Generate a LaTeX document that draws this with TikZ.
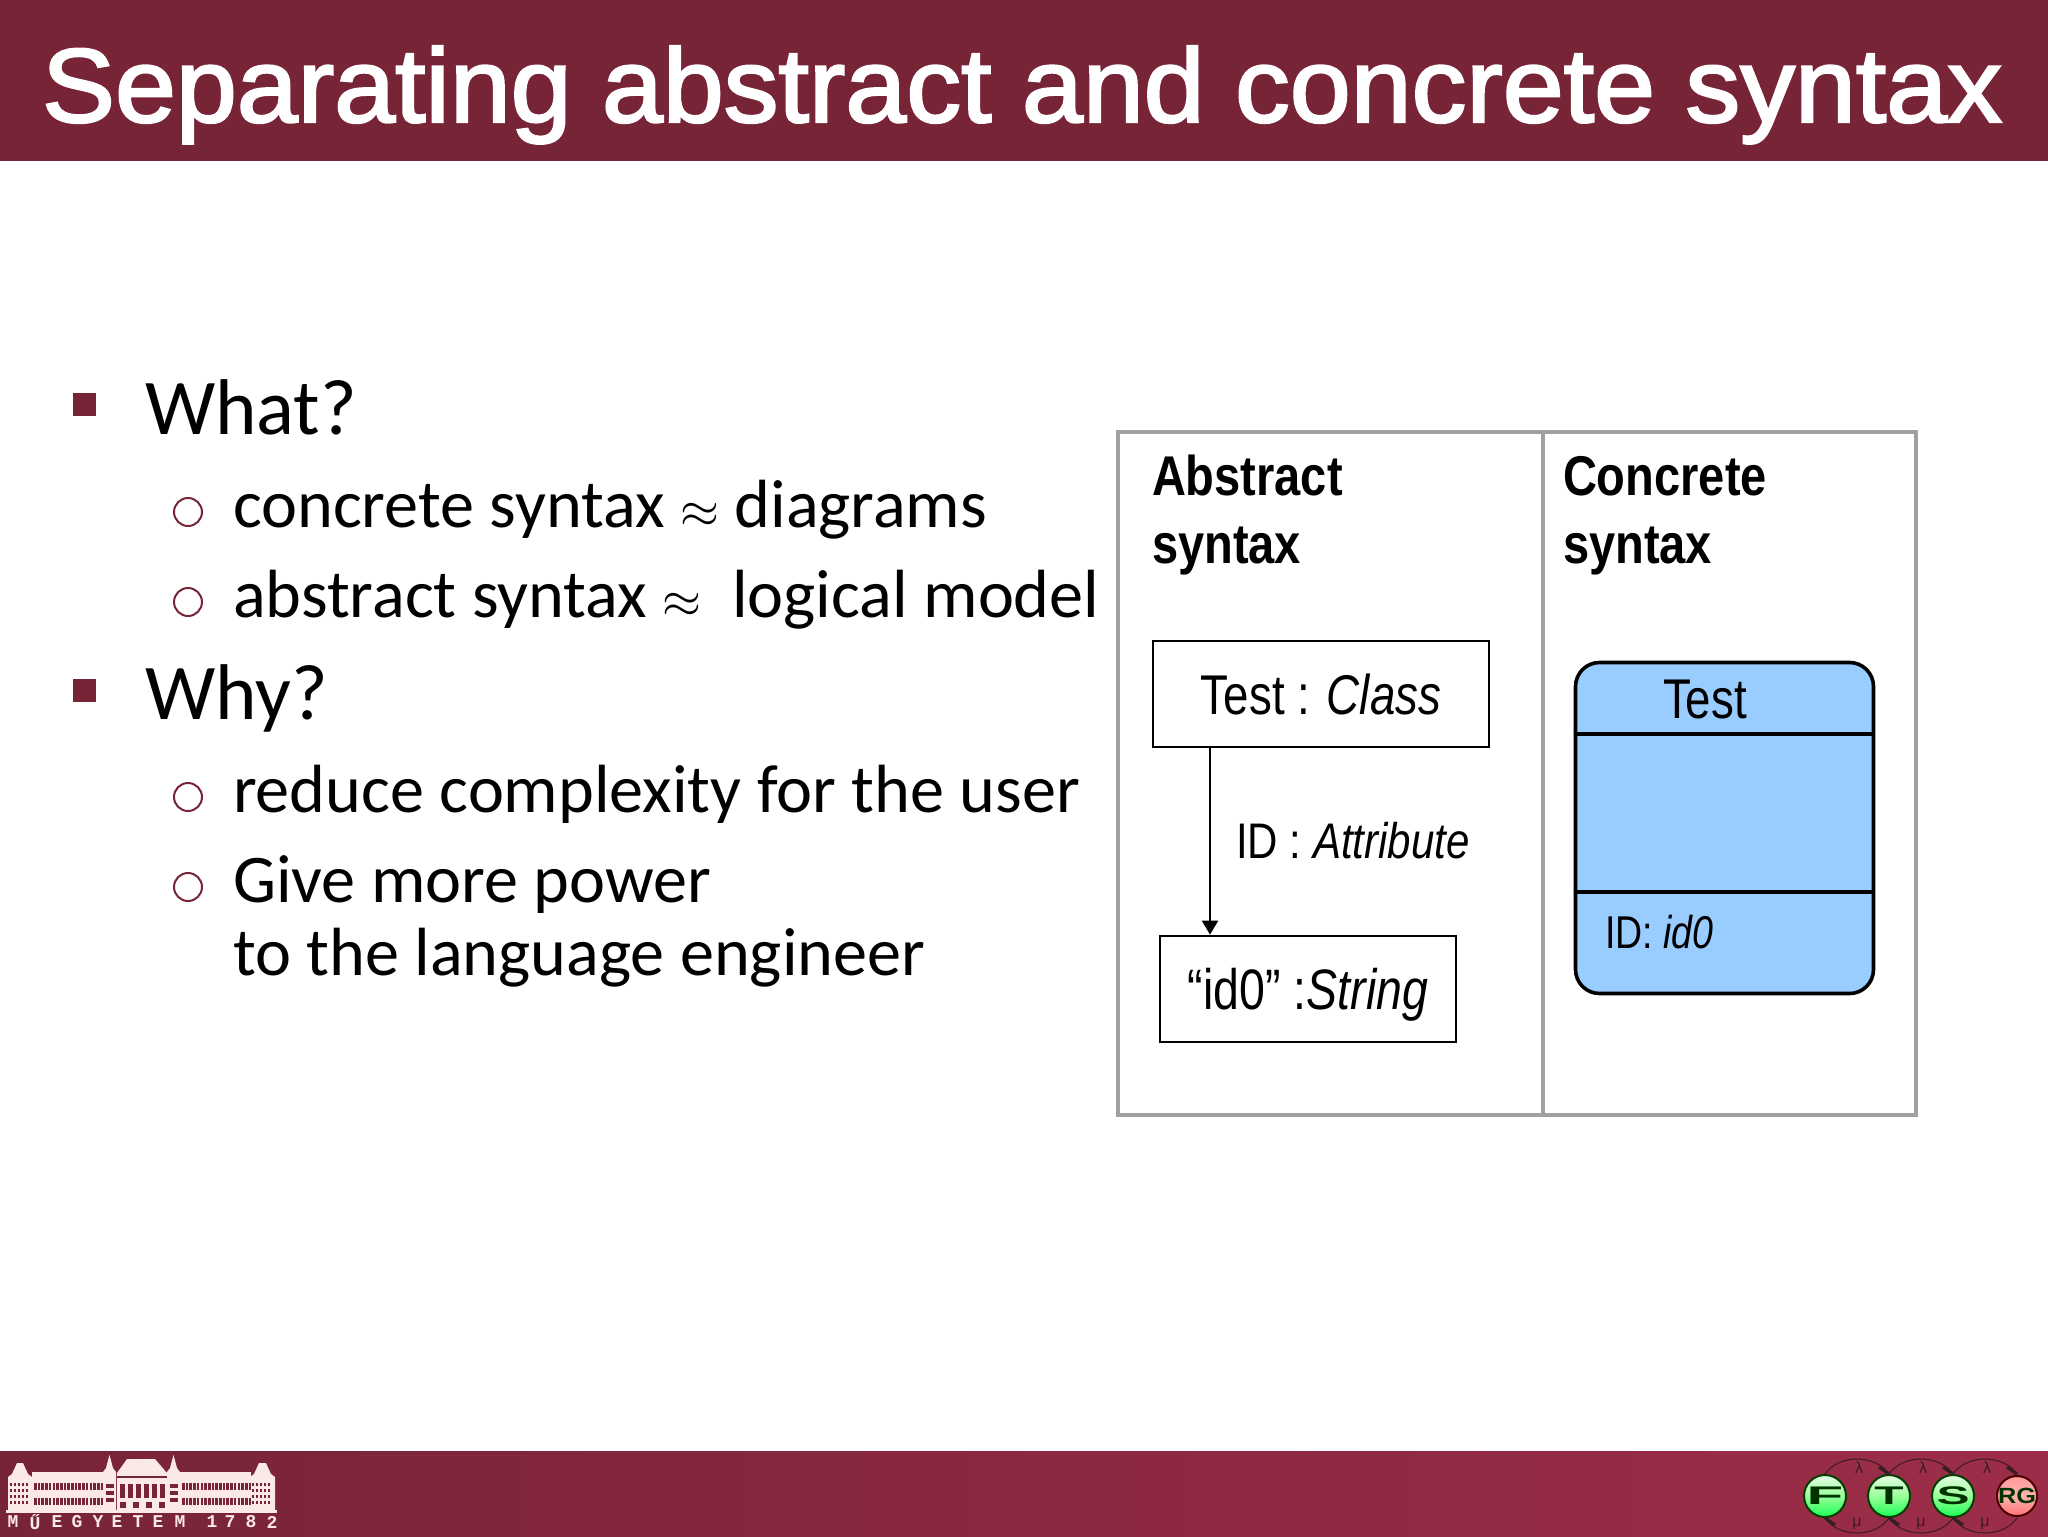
\documentclass[tikz,border=0pt]{standalone}
\usepackage{fontspec}
\usetikzlibrary{arrows.meta,calc}
\setmainfont{Carlito}
\newfontfamily\titlef[FakeBold=2.2,FakeStretch=1.043]{Liberation Sans}
\newfontfamily\nar[FakeStretch=0.815]{Liberation Sans}
\newfontfamily\narm[FakeStretch=0.84]{Liberation Sans}
\newfontfamily\narb[FakeStretch=0.84]{Liberation Sans Bold}
\newfontfamily\monob{Liberation Mono Bold}
\newfontfamily\sansb{Liberation Sans Bold}
\newfontfamily\sansr{Liberation Sans}
\definecolor{band}{HTML}{772437}
\definecolor{bandr}{HTML}{9C2D49}
\definecolor{pale}{HTML}{FBE9E5}
\definecolor{framegray}{HTML}{A0A0A0}
\definecolor{umlblue}{HTML}{99CCFF}
\definecolor{arcdark}{HTML}{3A1C26}
\newcommand{\apx}{{\normalsize\scalebox{2.5}{$\approx$}}}
\tikzset{
 x=0.5pt,y=-0.5pt,
 txt/.style={anchor=base west,inner sep=0pt,outer sep=0pt},
 titletxt/.style={txt,text=white,font=\titlef\fontsize{52.5}{60}\selectfont},
 lone/.style={txt,font=\fontsize{39.5}{48}\selectfont},
 ltwo/.style={txt,font=\fontsize{34.1}{40}\selectfont},
 head/.style={txt,font=\narb\fontsize{28}{32}\selectfont},
 dtxt/.style={txt,font=\narm\fontsize{25}{30}\selectfont},
 sqb/.style={fill=band,draw=none,minimum width=11.5pt,minimum height=11.5pt,inner sep=0pt},
 cib/.style={circle,draw=band,line width=1pt,minimum size=14pt,inner sep=0pt},
 objbox/.style={draw=black,line width=1.35pt,inner sep=0pt,text height=20pt,text depth=0pt,font=\nar\fontsize{28}{32}\selectfont,minimum height=53pt},
 logoletter/.style={inner sep=0pt,text=pale,font=\monob\fontsize{9}{10}\selectfont},
 ball/.style={circle,draw=black!75!green,line width=1pt,minimum size=21pt,inner sep=0pt,top color=green!10!white,bottom color=green!75!cyan!90!white,middle color=green!40!white},
 redball/.style={circle,draw=black!70!red,line width=1pt,minimum size=20pt,inner sep=0pt,top color=red!40!white,bottom color=red!55!white,middle color=red!30!white},
 balltxt/.style={inner sep=0pt,text=black!80!green,font=\sansb\fontsize{15}{16}\selectfont},
 arcline/.style={draw=arcdark,line width=0.5pt},
 arcthick/.style={draw=arcdark,line width=1.6pt},
 greek/.style={inner sep=0pt,text=arcdark,font=\sansr\fontsize{8}{9}\selectfont},
 bwin/.style={fill=band,draw=none},
}
\begin{document}
\begin{tikzpicture}
\useasboundingbox (0,0) rectangle (2048,1536);
\fill[white] (0,0) rectangle (2048,1536);
\fill[band] (0,0) rectangle (2048,161);
\shade[left color=band,middle color=band,right color=bandr] (0,1451) rectangle (2048,1536);
\node[titletxt] (title) at (42,122) {Separating abstract and concrete syntax};

% bullets
\node[sqb] (b1) at (84,404) {};
\node[sqb] (b2) at (84,690) {};
\node[cib] (c1) at (188,512) {};
\node[cib] (c2) at (188,602) {};
\node[cib] (c3) at (188,797) {};
\node[cib] (c4) at (188,887) {};
\node[lone] (what) at (145,434) {What?};
\node[lone] (why) at (145,719) {Why?};
\node[ltwo] (t1) at (233,527.5) {concrete syntax \apx{} diagrams};
\node[ltwo] (t2) at (233,617.5) {abstract syntax \apx\ \ logical model};
\node[ltwo] (t3) at (233,812.5) {reduce complexity for the user};
\node[ltwo] (t4) at (233,902.5) {Give more power};
\node[ltwo] (t5) at (233,975.5) {to the language engineer};

% diagram frame
\node[draw=framegray,line width=2pt,minimum width=399pt,minimum height=341.5pt,inner sep=0pt] (frame) at (1517,773.5) {};
\coordinate (div) at (1543,0);
\draw[framegray,line width=2pt] (frame.north -| div) -- (frame.south -| div);
\node[head] (h1) at (1152,495) {Abstract};
\node[head] (h2) at (1152,563) {syntax};
\node[head] (h3) at (1563,495) {Concrete};
\node[head] (h4) at (1563,563) {syntax};

\node[objbox,minimum width=168pt] (testobj) at (1321,694) {Test : \itshape Class};
\node[objbox,minimum width=148pt,font=\nar\fontsize{28.5}{32}\selectfont] (strobj) at (1308,989) {“id0” :\itshape String};
\coordinate (ax) at (1210,0);
\draw[line width=1pt,-{Triangle[length=7pt,width=8pt]}] (testobj.south -| ax) -- (strobj.north -| ax);
\node[dtxt] (attr) at (1236,858) {ID : \itshape Attribute};

\node[draw=black,line width=1.8pt,fill=umlblue,rounded corners=12pt,minimum width=149pt,minimum height=165.5pt,inner sep=0pt] (cls) at (1724.5,828) {};
\coordinate (l1) at (0,734);
\coordinate (l2) at (0,892);
\draw[line width=1.8pt] (cls.west |- l1) -- (cls.east |- l1);
\draw[line width=1.8pt] (cls.west |- l2) -- (cls.east |- l2);
\node[txt,font=\nar\fontsize{28}{32}\selectfont] (ctest) at (1663,718) {Test};
\node[txt,font=\nar\fontsize{23}{28}\selectfont] (cid) at (1605,948) {ID: \itshape id0};

% building logo
\fill[pale] (6,1510) rectangle (277,1513);
\foreach \xa/\xb in {8/32,250/275}{
  \fill[pale] (\xa,1477) -- (\xa+4,1474) -- (\xa+9,1463) -- (\xb-9,1463) -- (\xb-4,1474) -- (\xb,1477) -- (\xb,1511) -- (\xa,1511) -- cycle;
  \foreach \r in {1483,1489,1495,1501}{
    \foreach \c in {2,6,...,20}{
      \fill[bwin] (\xa+\c,\r) rectangle +(2.4,3);
    }
  }
}
\foreach \xa/\n in {32/18,180/18}{
  \fill[pale] (\xa,1472) rectangle (\xa+71,1511);
  \foreach \c in {0,...,\n}{
    \fill[bwin] (\xa+2+\c*3.7,1483) rectangle +(2.6,7);
    \fill[bwin] (\xa+2+\c*3.7,1498) rectangle +(2.6,7);
  }
}
\fill[pale] (117,1473) -- (127,1459) -- (155,1459) -- (167,1473) -- (167,1511) -- (117,1511) -- cycle;
\foreach \c in {120,128,...,160}{
  \fill[bwin] (\c,1484) rectangle +(5,14);
}
\foreach \c in {120,133,146,159}{
  \fill[bwin] (\c,1502) rectangle +(6,6);
}
\fill[bwin] (117,1476) rectangle (167,1478);
\foreach \xa in {103,167}{
  \fill[pale] (\xa,1472) -- (\xa+3,1468) -- (\xa+6.5,1455) -- (\xa+10,1468) -- (\xa+13,1472) -- (\xa+13,1511) -- (\xa,1511) -- cycle;
  \foreach \r in {1484,1491,1498}{
    \fill[bwin] (\xa+3,\r) rectangle +(8,3.5);
  }
}
\foreach \ch/\xp [count=\i] in {M/13,Ű/35,E/57,G/77,Y/98,E/117,T/138,E/158,M/180,1/212,7/230,8/251,2/272}{
  \node[logoletter] (lg\i) at (\xp,1522) {\ch};
}

% FTSRG logo
\foreach \p/\q/\k in {1825/1889/1,1889/1953/2,1953/2017/3}{
  \coordinate (pn\k) at (\p,1474);
  \coordinate (qn\k) at (\q,1474);
  \coordinate (ps\k) at (\p,1518);
  \coordinate (qs\k) at (\q,1518);
  \draw[arcline] (pn\k) .. controls +(14,-20) and +(-14,-20) .. (qn\k);
  \draw[arcline] (ps\k) .. controls +(14,20) and +(-14,20) .. (qs\k);
  \draw[arcthick] ($(qn\k)+(-10,-7)$) -- (qn\k);
  \draw[arcthick] ($(ps\k)+(10,7)$) -- (ps\k);
  \node[greek] (lam\k) at ($(pn\k)!0.5!(qn\k)+(2,-6)$) {λ};
  \node[greek] (mu\k) at ($(ps\k)!0.5!(qs\k)+(0,6)$) {μ};
}
\node[ball] (bf) at (1825,1496) {};
\node[ball] (bt) at (1889,1496) {};
\node[ball] (bs) at (1953,1496) {};
\node[redball] (br) at (2017,1496) {};
\node[balltxt] (lf) at (bf) {\scalebox{2}[0.85]{F}};
\node[balltxt] (lt) at (bt) {\scalebox{1.6}[0.85]{T}};
\node[balltxt] (ls) at (bs) {\scalebox{1.65}[0.85]{S}};
\node[balltxt,font=\sansb\fontsize{11}{12}\selectfont] (lr) at (br) {\scalebox{1.15}[1]{RG}};
\end{tikzpicture}
\end{document}
